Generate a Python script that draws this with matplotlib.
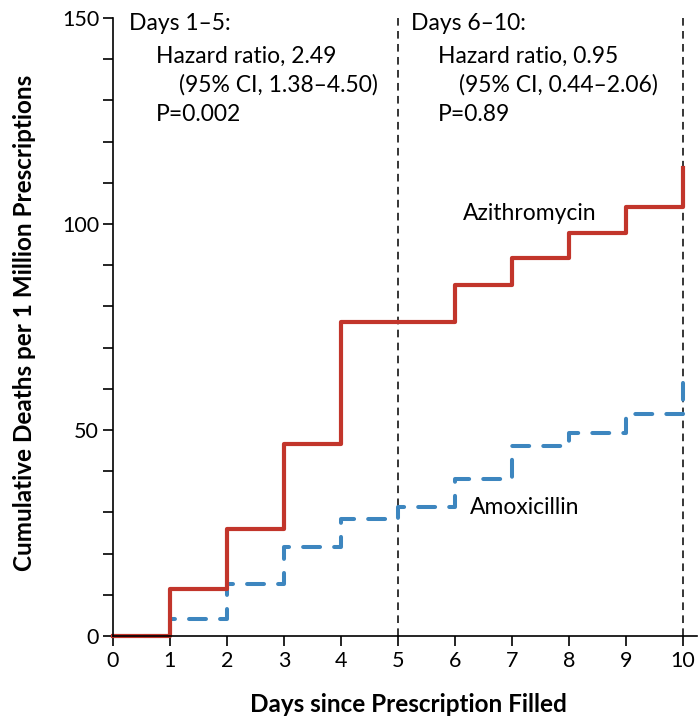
import matplotlib
matplotlib.use("Agg")
import matplotlib.pyplot as plt
from matplotlib.ticker import MultipleLocator

plt.rcParams['font.family'] = ['Lato', 'DejaVu Sans']

days = [0, 1, 2, 3, 4, 5, 6, 7, 8, 9, 10]
azithro = [0, 11.4, 26.0, 46.7, 76.2, 76.2, 85.2, 91.7, 97.8, 104.1, 113.6]
amoxi = [0, 4.1, 12.7, 21.6, 28.4, 31.2, 38.1, 46.1, 49.3, 54.0, 61.4]
xticks = list(range(0, 11))
yticks = [0, 50, 100, 150]
split_days = [5, 10]

W, H = 698, 722
fig = plt.figure(figsize=(W / 100, H / 100), dpi=100)
ax = fig.add_axes([113 / W, 1 - 636 / H, 584 / W, 618 / H])

ax.step(days, amoxi, where='post', color='#3d86bf', lw=2.9,
        linestyle=(0, (4.2, 3.5)), dash_capstyle='round', clip_on=False)
ax.step(days, azithro, where='post', color='#c2352b', lw=3.0, clip_on=False)

for d in split_days:
    ax.axvline(d, color='black', lw=1.1, linestyle=(0, (5, 3.5)), zorder=1)

ax.set_xlim(0, 10.25)
ax.set_ylim(0, 150)
ax.set_xticks(xticks)
ax.set_yticks(yticks)
ax.yaxis.set_minor_locator(MultipleLocator(10))
for s in ['top', 'right']:
    ax.spines[s].set_visible(False)
for s in ['left', 'bottom']:
    ax.spines[s].set_linewidth(1.2)
ax.tick_params(which='both', direction='out', length=7, width=1.2, labelsize=15.5)
ax.tick_params(axis='y', which='minor', length=7)
ax.tick_params(axis='x', pad=4)
ax.tick_params(axis='y', pad=3)

# axis titles placed by pixel to match the original layout
fig.text(25 / W, 1 - 323 / H, 'Cumulative Deaths per 1 Million Prescriptions',
         fontsize=17.5, fontweight='bold', rotation=90, ha='center', va='center')
fig.text(408 / W, 1 - 704 / H, 'Days since Prescription Filled',
         fontsize=17.5, fontweight='bold', ha='center', va='center')


def ptext(x, y, s, **kw):
    fig.text(x / W, 1 - y / H, s, fontsize=16.5, va='baseline', **kw)


ptext(129, 30, 'Days 1\u20135:')
ptext(156, 63, 'Hazard ratio, 2.49')
ptext(179, 92, '(95% CI, 1.38\u20134.50)')
ptext(156, 121, 'P=0.002')

ptext(411, 30, 'Days 6\u201310:')
ptext(438, 63, 'Hazard ratio, 0.95')
ptext(459, 92, '(95% CI, 0.44\u20132.06)')
ptext(438, 121, 'P=0.89')

ptext(463, 220, 'Azithromycin')
ptext(470, 514, 'Amoxicillin')

fig.savefig('out.png', dpi=100)
